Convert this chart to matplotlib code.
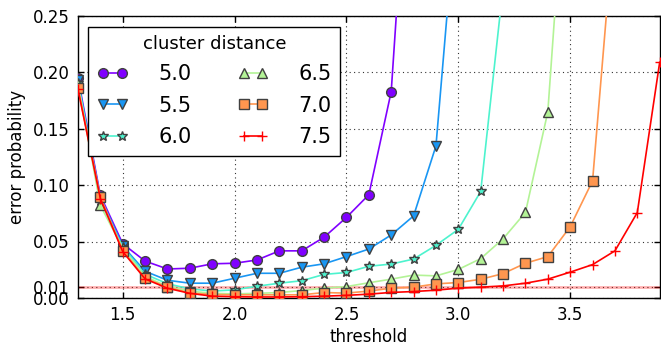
import numpy as np
import matplotlib
matplotlib.use("Agg")
import matplotlib.pyplot as plt

# threshold values (x axis)
thresholds = [1.3, 1.4, 1.5, 1.6, 1.7, 1.8, 1.9, 2.0, 2.1, 2.2, 2.3, 2.4, 2.5,
              2.6, 2.7, 2.8, 2.9, 3.0, 3.1, 3.2, 3.3, 3.4, 3.5, 3.6, 3.7, 3.8, 3.9]

# error probability for each cluster distance
err_50 = [0.195, 0.091, 0.048, 0.0326, 0.0256, 0.0263, 0.0302, 0.0307, 0.0336,
          0.0417, 0.0417, 0.0538, 0.0714, 0.0915, 0.183, 0.48]
err_55 = [0.193, 0.089, 0.046, 0.0236, 0.0156, 0.013, 0.013, 0.0174, 0.0218,
          0.0218, 0.0272, 0.0302, 0.0366, 0.0433, 0.0558, 0.0727, 0.1348, 0.37]
err_60 = [0.191, 0.086, 0.045, 0.021, 0.0125, 0.008, 0.006, 0.0071, 0.0103,
          0.013, 0.0152, 0.0208, 0.0225, 0.028, 0.030, 0.0344, 0.0466, 0.0608,
          0.0944, 0.276]
err_65 = [0.190, 0.082, 0.044, 0.019, 0.010, 0.006, 0.004, 0.0035, 0.004,
          0.0047, 0.0065, 0.0086, 0.010, 0.0134, 0.0166, 0.0202, 0.0195, 0.0252,
          0.0348, 0.0524, 0.0758, 0.165, 0.445]
err_70 = [0.186, 0.0895, 0.042, 0.0174, 0.0095, 0.0043, 0.003, 0.0027, 0.0027,
          0.0027, 0.0027, 0.0047, 0.0042, 0.006, 0.0086, 0.0095, 0.0124, 0.0136,
          0.0165, 0.0215, 0.0307, 0.0366, 0.0631, 0.1038, 0.342]
err_75 = [0.185, 0.088, 0.041, 0.0168, 0.0085, 0.004, 0.0015, 0.001, 0.0008,
          0.0008, 0.001, 0.0015, 0.0022, 0.0033, 0.0048, 0.0056, 0.0068, 0.0086,
          0.0095, 0.0106, 0.013, 0.0166, 0.0228, 0.0295, 0.0417, 0.0757, 0.209]

distances = ["5.0", "5.5", "6.0", "6.5", "7.0", "7.5"]
series = [err_50, err_55, err_60, err_65, err_70, err_75]
markers = ["o", "v", "*", "^", "s", "+"]

y_ticks = [0.0, 0.01, 0.05, 0.10, 0.15, 0.20, 0.25]
y_ticklabels = ["0.00", "0.01", "0.05", "0.10", "0.15", "0.20", "0.25"]
x_ticks = [1.5, 2.0, 2.5, 3.0, 3.5]

colors = plt.cm.rainbow(np.linspace(0, 1, len(series)))

fig = plt.figure(figsize=(6.61, 3.5), dpi=100)
ax = fig.add_axes([0.118, 0.149, 0.880, 0.805])

for label, vals, mk, col in zip(distances, series, markers, colors):
    ax.plot(thresholds[:len(vals)], vals, marker=mk, color=col, lw=1.2,
            markersize=7, markeredgecolor="0.25" if mk != "+" else col,
            markeredgewidth=1.0, label=label, zorder=3)

ax.axhline(0.01, color="red", alpha=0.3, lw=2, zorder=2)

ax.set_xlim(1.3, 3.9)
ax.set_ylim(0.0, 0.25)
ax.set_xticks(x_ticks)
ax.set_xticklabels([f"{t:.1f}" for t in x_ticks])
ax.set_yticks(y_ticks)
ax.set_yticklabels(y_ticklabels)
ax.tick_params(direction="in", top=True, right=True, labelsize=12, length=4,
               width=1, pad=6)
ax.grid(True, color="0.2", linestyle=(0, (1, 3)), linewidth=0.8)
ax.set_axisbelow(True)
for sp in ax.spines.values():
    sp.set_linewidth(1.0)
    sp.set_color("k")

ax.set_xlabel("threshold", fontsize=12, labelpad=3)
ax.set_ylabel("error probability", fontsize=12, labelpad=5)

leg = ax.legend(title="cluster distance", ncol=2, loc="upper left",
                fontsize=15, title_fontsize=13, numpoints=2,
                handlelength=1.5, handletextpad=1.45, columnspacing=2.2,
                labelspacing=0.55, borderaxespad=0.5, fancybox=False,
                framealpha=1.0, edgecolor="k")
leg.get_frame().set_linewidth(1.0)

fig.savefig("out.png", dpi=100)
